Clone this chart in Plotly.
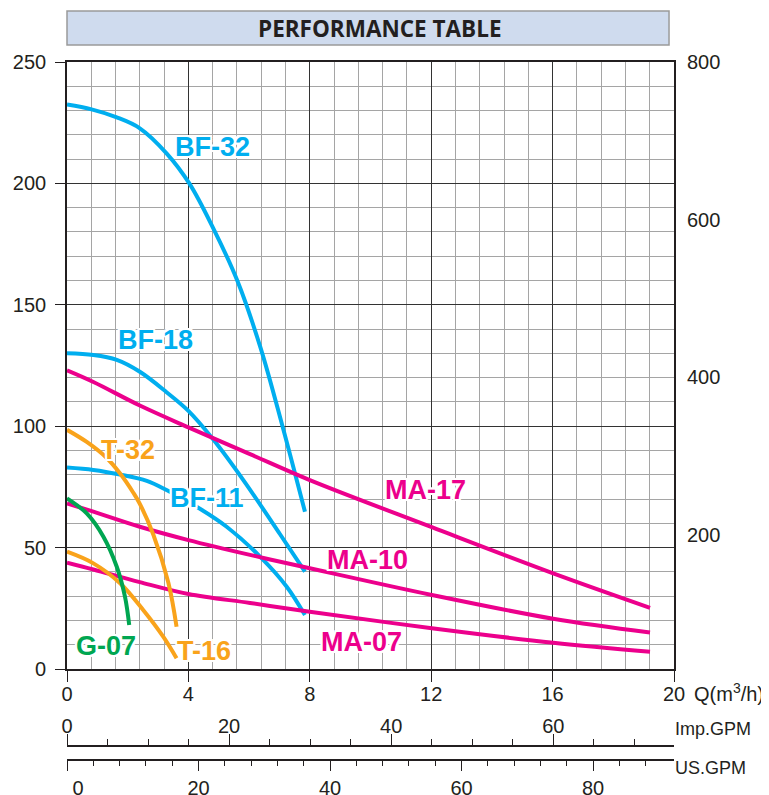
import plotly.graph_objects as go

# ---------------- data (Q in m3/h, H in m) ----------------
q_bf32 = [0, 0.81, 1.64, 2.4, 3.28, 4.03, 4.82, 5.61, 6.36, 7.1, 7.84]
h_bf32 = [232.5, 230.5, 227.2, 222.7, 212.4, 200, 181.5, 160, 133, 100, 64.8]

q_bf18 = [0, 0.87, 1.64, 2.4, 3.28, 4.0, 4.82, 5.81, 7.02, 7.84]
h_bf18 = [130, 129.3, 127.3, 122.4, 114, 106.3, 94.5, 77.8, 55.5, 40.1]

q_bf11 = [0, 0.87, 1.75, 2.63, 3.28, 4.38, 5.26, 6.36, 7.24, 7.84]
h_bf11 = [83, 82, 80.1, 77.5, 73.7, 66, 58.6, 46.3, 33.9, 22.2]

q_t32 = [0, 0.65, 1.3, 1.75, 2.19, 2.4, 2.84, 3.34, 3.61]
h_t32 = [98.5, 93.5, 87, 80.5, 72.5, 68, 55.5, 35.5, 17.4]

q_t16 = [0, 0.87, 1.75, 2.51, 3.17, 3.61]
h_t16 = [48.3, 43.5, 35.3, 24.3, 13.3, 4.4]

q_g07 = [0, 0.65, 1.2, 1.64, 1.91, 2.05]
h_g07 = [70.3, 64.1, 54.5, 42.1, 29.8, 18.1]

q_ma17 = [0, 0.87, 2.4, 4.0, 6.03, 8, 12.02, 16.02, 19.21]
h_ma17 = [123, 118.2, 108.5, 99.5, 88.5, 77.8, 58.4, 39.4, 25.2]

q_ma10 = [0, 0.87, 2.4, 4, 6.03, 8, 12.02, 16.02, 19.21]
h_ma10 = [68.2, 64.8, 58.6, 53.1, 47, 41.5, 30.5, 20.7, 15]

q_ma07 = [0, 0.87, 2.4, 4, 6.03, 8, 12.02, 16.02, 19.21]
h_ma07 = [43.8, 41.0, 35.8, 30.9, 27.2, 23.6, 16.8, 10.8, 7.1]

# curve labels: name, Q, H
label_names = ["BF-32", "BF-18", "BF-11", "T-32", "T-16", "G-07", "MA-17", "MA-10", "MA-07"]
label_q = [4.78, 2.9, 4.6, 2.0, 4.5, 1.29, 11.81, 9.9, 9.71]
label_h = [215, 135.5, 70.4, 90.4, 7.4, 9.5, 73.7, 44.9, 11.2]

q_ticks = [0, 4, 8, 12, 16, 20]
h_ticks = [0, 50, 100, 150, 200, 250]
ft_ticks = [200, 400, 600, 800]
imp_ticks = [0, 20, 40, 60]
us_ticks = [0, 20, 40, 60, 80]
us_ticktext = ["\u2007\u20070", "20", "40", "60", "80"]

CYAN = "#00aeef"
MAG = "#ec008c"
ORG = "#f9a31b"
GRN = "#00a651"
DARK = "#231f20"

curves = [
    (q_bf32, h_bf32, CYAN), (q_bf18, h_bf18, CYAN), (q_bf11, h_bf11, CYAN),
    (q_ma17, h_ma17, MAG), (q_ma10, h_ma10, MAG), (q_ma07, h_ma07, MAG),
    (q_t32, h_t32, ORG), (q_t16, h_t16, ORG), (q_g07, h_g07, GRN),
]
label_colors = [CYAN, CYAN, CYAN, ORG, ORG, GRN, MAG, MAG, MAG]

fig = go.Figure()
for q, h, c in curves:
    fig.add_trace(go.Scatter(x=q, y=h, mode="lines",
                             line=dict(color=c, width=4, shape="spline", smoothing=1.0),
                             hoverinfo="skip", showlegend=False))

# helper invisible traces so the extra axes are drawn
fig.add_trace(go.Scatter(x=[0], y=[400], xaxis="x", yaxis="y2", mode="markers",
                         marker=dict(opacity=0), hoverinfo="skip", showlegend=False))
fig.add_trace(go.Scatter(x=[0], y=[0], xaxis="x2", yaxis="y", mode="markers",
                         marker=dict(opacity=0), hoverinfo="skip", showlegend=False))
fig.add_trace(go.Scatter(x=[0], y=[0], xaxis="x3", yaxis="y", mode="markers",
                         marker=dict(opacity=0), hoverinfo="skip", showlegend=False))

halo = ("2px 0 0 #fff, -2px 0 0 #fff, 0 2px 0 #fff, 0 -2px 0 #fff, "
        "2px 2px 0 #fff, -2px -2px 0 #fff, 2px -2px 0 #fff, -2px 2px 0 #fff")
for name, q, h, c in zip(label_names, label_q, label_h, label_colors):
    fig.add_annotation(x=q, y=h, xref="x", yref="y", text=name, showarrow=False,
                       xanchor="center", yanchor="middle",
                       font=dict(family="Liberation Sans", size=27, color=c,
                                 weight="bold", shadow=halo))

tickfont = dict(family="Liberation Sans", size=20, color=DARK)
YDOM0 = 0.14867

# page body has an 8px margin, so the figure is sized to fit the 769x795 window
fig.update_layout(
    width=761, height=787,
    margin=dict(l=59, r=95, t=54, b=20, autoexpand=False),
    paper_bgcolor="white", plot_bgcolor="white",
    xaxis=dict(domain=[0, 1], range=[0, 20], tickvals=q_ticks, ticks="outside",
               ticklen=11, tickwidth=1.4, tickcolor=DARK, showline=True,
               linecolor=DARK, linewidth=1.6, mirror=True, showgrid=True,
               gridcolor="#333333", gridwidth=1.4, zeroline=False,
               minor=dict(dtick=0.8, tick0=0, showgrid=True, gridcolor="#a5a5a5",
                          gridwidth=1.4, ticks=""),
               tickfont=tickfont, anchor="y", automargin=False,
               ticklabelstandoff=-5),
    yaxis=dict(domain=[YDOM0, 1], range=[0, 250], tickvals=h_ticks, ticks="outside",
               ticklen=10, tickwidth=1.4, tickcolor=DARK, showline=True,
               linecolor=DARK, linewidth=1.6, mirror=True, showgrid=True,
               gridcolor="#333333", gridwidth=1.4, zeroline=False,
               minor=dict(dtick=10, tick0=0, showgrid=True, gridcolor="#a5a5a5",
                          gridwidth=1.4, ticks=""),
               tickfont=tickfont, anchor="x", automargin=False,
               ticklabelstandoff=5),
    yaxis2=dict(overlaying="y", side="right", anchor="x", range=[30.3, 800],
                tickvals=ft_ticks, ticks="", showgrid=False, zeroline=False,
                showline=False, tickfont=tickfont, ticklabelstandoff=12,
                automargin=False),
    xaxis2=dict(overlaying="x", anchor="free", position=0.0407, side="top",
                range=[0, 74.9], tickvals=imp_ticks, ticks="outside", ticklen=11,
                tickwidth=1.4, tickcolor=DARK, showline=True, linecolor=DARK,
                linewidth=1.6, showgrid=False, zeroline=False, automargin=False,
                ticklabelstandoff=-7,
                minor=dict(tickvals=list(range(0, 75, 5)), ticks="outside",
                           ticklen=6, tickwidth=1.4, tickcolor=DARK, showgrid=False),
                tickfont=tickfont),
    xaxis3=dict(overlaying="x", anchor="free", position=0.021, side="bottom",
                range=[0, 92.3], tickvals=us_ticks, ticktext=us_ticktext,
                ticks="outside", ticklen=10, tickwidth=1.4, tickcolor=DARK,
                showline=True, linecolor=DARK, linewidth=1.6, showgrid=False,
                zeroline=False, automargin=False,
                minor=dict(tickvals=list(range(0, 89, 4)), ticks="outside",
                           ticklen=5, tickwidth=1.4, tickcolor=DARK, showgrid=False),
                tickfont=tickfont),
)

# title box
fig.add_shape(type="rect", xref="paper", yref="paper", x0=0, x1=0.9918,
              y0=1.0238, y1=1.0715, fillcolor="#cfdbee",
              line=dict(color="#9a9a9a", width=1.5), layer="above")
fig.add_annotation(xref="paper", yref="paper", x=0.5157, y=1.0463,
                   text="PERFORMANCE TABLE", showarrow=False,
                   xanchor="center", yanchor="middle",
                   font=dict(family="Open Sans", size=22.5, color=DARK, weight="bold"))

axis_label_font = dict(family="Liberation Sans", size=20, color=DARK)
fig.add_annotation(xref="paper", yref="paper", x=1.0297, y=0.1164,
                   text="Q(m<sup>3</sup>/h)", showarrow=False, xanchor="left",
                   yanchor="middle", font=axis_label_font)
fig.add_annotation(xref="paper", yref="paper", x=0.998, y=0.0645,
                   text="Imp.GPM", showarrow=False, xanchor="left",
                   yanchor="middle", font=dict(family="Liberation Sans", size=18, color=DARK))
fig.add_annotation(xref="paper", yref="paper", x=0.998, y=0.0098,
                   text="US.GPM", showarrow=False, xanchor="left",
                   yanchor="middle", font=dict(family="Liberation Sans", size=18, color=DARK))

fig.write_html("out.html")
